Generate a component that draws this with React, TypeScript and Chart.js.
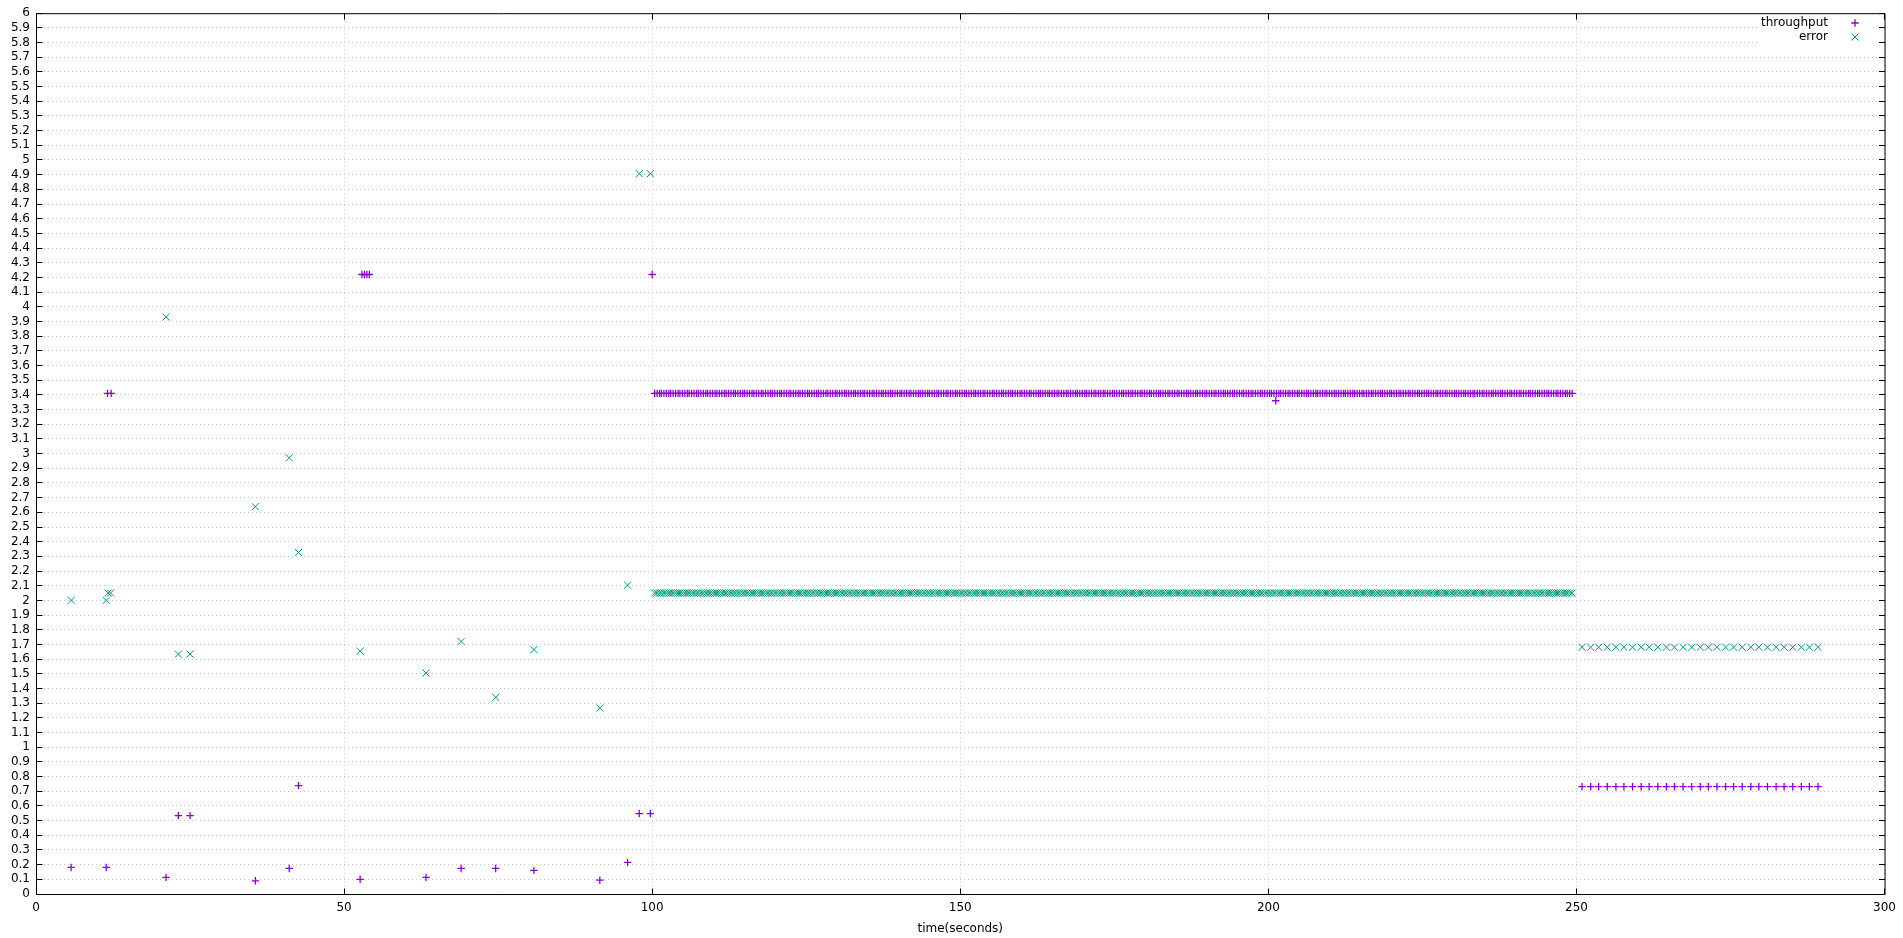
import React, { useEffect, useRef } from 'react';
import { Chart, registerables } from 'chart.js';

Chart.register(...registerables);

const FONT_FAMILY = '"DejaVu Sans", "Liberation Sans", sans-serif';
const PURPLE = '#9400d3';
const GREEN = '#009e73';

// Sparse samples (time in seconds)
const throughputTimes = [5.7, 11.4, 11.6, 12.2, 21.1, 23.1, 25.0, 35.6, 41.1, 42.6, 52.6, 52.9, 53.3, 53.7, 54.1, 63.3, 69.0, 74.6, 80.8, 91.5, 96.0, 97.9, 99.7, 100.0, 201.2];
const throughputValues = [0.181, 0.181, 3.41, 3.41, 0.113, 0.534, 0.534, 0.09, 0.174, 0.738, 0.1, 4.22, 4.22, 4.22, 4.22, 0.113, 0.174, 0.174, 0.161, 0.094, 0.215, 0.548, 0.548, 4.22, 3.36];

const errorTimes = [5.7, 11.4, 11.7, 12.1, 21.1, 23.1, 25.0, 35.6, 41.1, 42.6, 52.6, 63.3, 69.0, 74.6, 80.8, 91.5, 96.0, 97.9, 99.7];
const errorValues = [2.0, 2.0, 2.05, 2.05, 3.93, 1.634, 1.634, 2.638, 2.971, 2.326, 1.654, 1.505, 1.72, 1.34, 1.665, 1.267, 2.104, 4.907, 4.907];

// Dense steady band (100 s .. 250 s)
const bandTimes = [
  100.4, 100.8, 101.2, 101.5, 101.9, 102.3, 102.7, 103.0,
  103.4, 103.8, 104.2, 104.5, 104.9, 105.3, 105.7, 106.0,
  106.4, 106.8, 107.2, 107.5, 107.9, 108.3, 108.7, 109.0,
  109.4, 109.8, 110.2, 110.5, 110.9, 111.3, 111.7, 112.0,
  112.4, 112.8, 113.2, 113.5, 113.9, 114.3, 114.7, 115.0,
  115.4, 115.8, 116.2, 116.5, 116.9, 117.3, 117.7, 118.0,
  118.4, 118.8, 119.2, 119.5, 119.9, 120.3, 120.7, 121.0,
  121.4, 121.8, 122.2, 122.5, 122.9, 123.3, 123.7, 124.0,
  124.4, 124.8, 125.2, 125.5, 125.9, 126.3, 126.7, 127.0,
  127.4, 127.8, 128.2, 128.5, 128.9, 129.3, 129.7, 130.0,
  130.4, 130.8, 131.2, 131.5, 131.9, 132.3, 132.7, 133.0,
  133.4, 133.8, 134.2, 134.5, 134.9, 135.3, 135.7, 136.0,
  136.4, 136.8, 137.2, 137.5, 137.9, 138.3, 138.7, 139.0,
  139.4, 139.8, 140.2, 140.5, 140.9, 141.3, 141.7, 142.0,
  142.4, 142.8, 143.2, 143.5, 143.9, 144.3, 144.7, 145.0,
  145.4, 145.8, 146.2, 146.5, 146.9, 147.3, 147.7, 148.0,
  148.4, 148.8, 149.2, 149.5, 149.9, 150.3, 150.7, 151.0,
  151.4, 151.8, 152.2, 152.5, 152.9, 153.3, 153.7, 154.0,
  154.4, 154.8, 155.2, 155.5, 155.9, 156.3, 156.7, 157.0,
  157.4, 157.8, 158.2, 158.5, 158.9, 159.3, 159.7, 160.0,
  160.4, 160.8, 161.2, 161.5, 161.9, 162.3, 162.7, 163.0,
  163.4, 163.8, 164.2, 164.5, 164.9, 165.3, 165.7, 166.0,
  166.4, 166.8, 167.2, 167.5, 167.9, 168.3, 168.7, 169.0,
  169.4, 169.8, 170.2, 170.5, 170.9, 171.3, 171.7, 172.0,
  172.4, 172.8, 173.2, 173.5, 173.9, 174.3, 174.7, 175.0,
  175.4, 175.8, 176.2, 176.5, 176.9, 177.3, 177.7, 178.0,
  178.4, 178.8, 179.2, 179.5, 179.9, 180.3, 180.7, 181.0,
  181.4, 181.8, 182.2, 182.5, 182.9, 183.3, 183.7, 184.0,
  184.4, 184.8, 185.2, 185.5, 185.9, 186.3, 186.7, 187.0,
  187.4, 187.8, 188.2, 188.5, 188.9, 189.3, 189.7, 190.0,
  190.4, 190.8, 191.2, 191.5, 191.9, 192.3, 192.7, 193.0,
  193.4, 193.8, 194.2, 194.5, 194.9, 195.3, 195.7, 196.0,
  196.4, 196.8, 197.2, 197.5, 197.9, 198.3, 198.7, 199.0,
  199.4, 199.8, 200.2, 200.5, 200.9, 201.3, 201.7, 202.0,
  202.4, 202.8, 203.2, 203.5, 203.9, 204.3, 204.7, 205.0,
  205.4, 205.8, 206.2, 206.5, 206.9, 207.3, 207.7, 208.0,
  208.4, 208.8, 209.2, 209.5, 209.9, 210.3, 210.7, 211.0,
  211.4, 211.8, 212.2, 212.5, 212.9, 213.3, 213.7, 214.0,
  214.4, 214.8, 215.2, 215.5, 215.9, 216.3, 216.7, 217.0,
  217.4, 217.8, 218.2, 218.5, 218.9, 219.3, 219.7, 220.0,
  220.4, 220.8, 221.2, 221.5, 221.9, 222.3, 222.7, 223.0,
  223.4, 223.8, 224.2, 224.5, 224.9, 225.3, 225.7, 226.0,
  226.4, 226.8, 227.2, 227.5, 227.9, 228.3, 228.7, 229.0,
  229.4, 229.8, 230.2, 230.5, 230.9, 231.3, 231.7, 232.0,
  232.4, 232.8, 233.2, 233.5, 233.9, 234.3, 234.7, 235.0,
  235.4, 235.8, 236.2, 236.5, 236.9, 237.3, 237.7, 238.0,
  238.4, 238.8, 239.2, 239.5, 239.9, 240.3, 240.7, 241.0,
  241.4, 241.8, 242.2, 242.5, 242.9, 243.3, 243.7, 244.0,
  244.4, 244.8, 245.2, 245.5, 245.9, 246.3, 246.7, 247.0,
  247.4, 247.8, 248.2, 248.5, 248.9, 249.3,
];
const bandThroughput = 3.41;
const bandError = 2.05;

// Tail (250 s .. 290 s)
const tailTimes = [250.9, 252.3, 253.6, 255.0, 256.4, 257.7, 259.1, 260.5, 261.8, 263.2, 264.6, 265.9, 267.3, 268.7, 270.1, 271.4, 272.8, 274.2, 275.5, 276.9, 278.3, 279.6, 281.0, 282.4, 283.7, 285.1, 286.5, 287.8, 289.2];
const tailThroughput = 0.731;
const tailError = 1.681;

const xTickStep = 50;
const yTickStep = 0.1;

const toPoints = (xs: number[], ys: number[]) => xs.map((x, i) => ({ x, y: ys[i] }));
const toLevel = (xs: number[], level: number) => xs.map((x) => ({ x, y: level }));

const throughputData = [
  ...toPoints(throughputTimes, throughputValues),
  ...toLevel(bandTimes, bandThroughput),
  ...toLevel(tailTimes, tailThroughput),
];
const errorData = [
  ...toPoints(errorTimes, errorValues),
  ...toLevel(bandTimes, bandError),
  ...toLevel(tailTimes, tailError),
];

const alignPx = (p: number) => Math.round(p - 0.5) + 0.5;

const framePlugin = {
  id: 'gnuFrame',
  beforeDatasetsDraw(chart: any) {
    const { ctx, chartArea: a, scales } = chart;
    ctx.save();
    // opaque key background
    ctx.fillStyle = '#ffffff';
    ctx.fillRect(1760, a.top + 1, a.right - 1 - 1760, 36);

    ctx.strokeStyle = '#000000';
    ctx.lineWidth = 1;
    ctx.setLineDash([]);
    ctx.beginPath();
    const L = a.left + 0.5;
    const R = a.right + 0.5;
    const T = a.top + 0.5;
    const B = a.bottom + 0.5;
    ctx.rect(L, T, R - L, B - T);
    const tl = 6;
    for (const t of scales.y.ticks) {
      const y = alignPx(scales.y.getPixelForValue(t.value));
      ctx.moveTo(L, y);
      ctx.lineTo(L + tl, y);
      ctx.moveTo(R, y);
      ctx.lineTo(R - tl, y);
    }
    for (const t of scales.x.ticks) {
      const x = alignPx(scales.x.getPixelForValue(t.value));
      ctx.moveTo(x, B);
      ctx.lineTo(x, B - tl);
      ctx.moveTo(x, T);
      ctx.lineTo(x, T + tl);
    }
    ctx.stroke();
    ctx.restore();
  },
  afterDatasetsDraw(chart: any) {
    const { ctx } = chart;
    ctx.save();
    ctx.font = `12px ${FONT_FAMILY}`;
    ctx.fillStyle = '#000000';
    ctx.textAlign = 'right';
    ctx.textBaseline = 'middle';
    const entries = [
      { label: 'throughput', color: PURPLE, kind: 'plus', y: 23 },
      { label: 'error', color: GREEN, kind: 'x', y: 37 },
    ];
    for (const e of entries) {
      ctx.fillStyle = '#000000';
      ctx.fillText(e.label, 1828, e.y);
      ctx.strokeStyle = e.color;
      ctx.lineWidth = e.kind === 'plus' ? 1.3 : 1;
      ctx.beginPath();
      const cx = 1855;
      const cy = e.y;
      if (e.kind === 'plus') {
        ctx.moveTo(cx - 3.7, cy);
        ctx.lineTo(cx + 3.7, cy);
        ctx.moveTo(cx, cy - 3.7);
        ctx.lineTo(cx, cy + 3.7);
      } else {
        ctx.moveTo(cx - 3.5, cy - 3.5);
        ctx.lineTo(cx + 3.5, cy + 3.5);
        ctx.moveTo(cx - 3.5, cy + 3.5);
        ctx.lineTo(cx + 3.5, cy - 3.5);
      }
      ctx.stroke();
    }
    ctx.restore();
  },
};

export default function App() {
  const canvasRef = useRef<HTMLCanvasElement | null>(null);

  useEffect(() => {
    document.body.style.margin = '0';
    const canvas = canvasRef.current;
    if (!canvas) return;
    const font = { family: FONT_FAMILY, size: 12 };
    const gridOpts = { color: '#c8c8c8', lineWidth: 1, drawTicks: false };
    const chart = new Chart(canvas, {
      type: 'scatter',
      data: {
        datasets: [
          {
            label: 'throughput',
            data: throughputData,
            pointStyle: 'cross',
            pointRadius: 3.7,
            pointBorderWidth: 1.3,
            borderColor: PURPLE,
            backgroundColor: PURPLE,
            showLine: false,
          },
          {
            label: 'error',
            data: errorData,
            pointStyle: 'crossRot',
            pointRadius: 5,
            pointBorderWidth: 1,
            borderColor: GREEN,
            backgroundColor: GREEN,
            showLine: false,
          },
        ],
      },
      options: {
        animation: false,
        responsive: false,
        events: [],
        layout: { padding: { top: 10, right: 18, left: 0, bottom: 0 } },
        plugins: {
          legend: { display: false },
          tooltip: { enabled: false },
        },
        scales: {
          x: {
            type: 'linear',
            position: 'bottom',
            min: 0,
            max: 300,
            ticks: {
              stepSize: xTickStep,
              font,
              color: '#000000',
              padding: 7,
              maxRotation: 0,
              autoSkip: false,
            },
            grid: gridOpts,
            border: { display: false, dash: [1, 3] },
            title: {
              display: true,
              text: 'time(seconds)',
              font,
              color: '#000000',
              padding: { top: 4, bottom: 2 },
            },
            afterFit: (s: any) => {
              s.height = 44;
            },
          },
          y: {
            type: 'linear',
            min: 0,
            max: 6,
            ticks: {
              stepSize: yTickStep,
              autoSkip: false,
              font,
              color: '#000000',
              padding: 6,
              callback: (v: any) => String(Math.round(Number(v) * 10) / 10),
            },
            grid: gridOpts,
            border: { display: false, dash: [1, 3] },
            afterFit: (s: any) => {
              s.width = 36;
            },
          },
        },
      },
      plugins: [framePlugin],
    });
    return () => chart.destroy();
  }, []);

  return (
    <div style={{ position: 'fixed', left: 0, top: 0, width: 1903, height: 938, background: '#ffffff' }}>
      <canvas ref={canvasRef} width={1903} height={938} style={{ display: 'block', width: 1903, height: 938 }} />
    </div>
  );
}
